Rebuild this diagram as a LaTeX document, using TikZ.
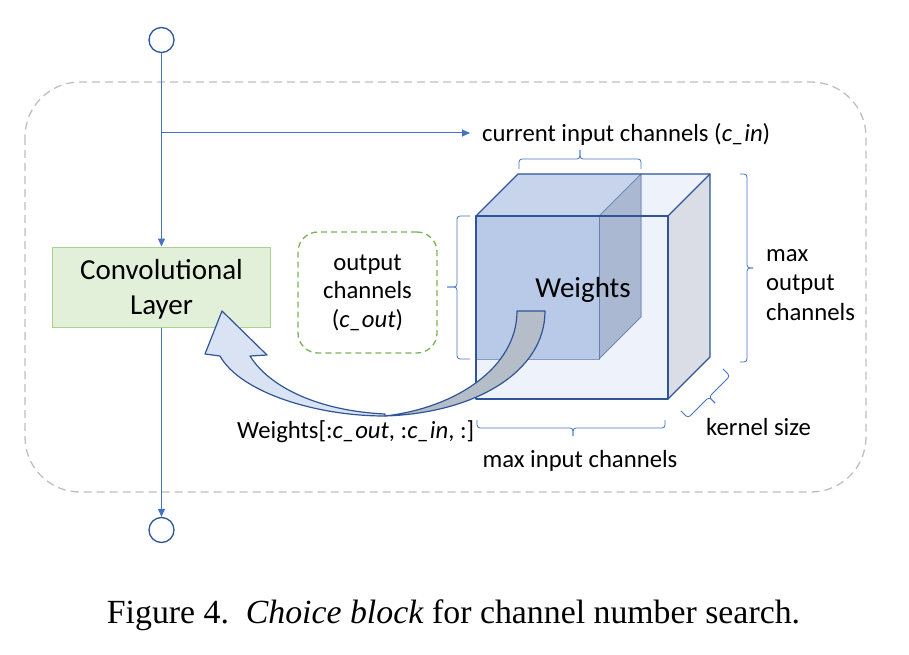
\documentclass[tikz,border=0pt]{standalone}
\usepackage{fontspec}
\setmainfont{Carlito}
\newfontfamily\capfont{Liberation Serif}
\usetikzlibrary{arrows.meta}
\definecolor{dkblue}{HTML}{2F5597}
\definecolor{lblue}{HTML}{4472C4}
\definecolor{framegray}{HTML}{BFBFBF}
\definecolor{convfill}{HTML}{E2F0D9}
\definecolor{convdraw}{HTML}{A9D18E}
\definecolor{gdash}{HTML}{7CB35A}
\definecolor{outerface}{HTML}{EEF2FA}
\definecolor{outerside}{HTML}{DADDE5}
\definecolor{innerfront}{HTML}{B9CAE8}
\definecolor{innertop}{HTML}{C8D4EC}
\definecolor{innerside}{HTML}{AAB8D2}
\definecolor{arrgray}{HTML}{B5BDC9}
\definecolor{arrblue}{HTML}{DAE3F3}
\tikzset{
  conn/.style={draw=lblue, line width=1pt, -{Triangle[length=8pt,width=7pt]}},
  brk/.style={draw=lblue, line width=0.8pt, rounded corners=3pt},
  circ/.style={circle, draw=dkblue, line width=1.3pt, fill=white, minimum size=25pt, inner sep=0pt},
  lbl/.style={font=\fontsize{24.7}{29.5}\selectfont, inner sep=0pt},
  convbox/.style={draw=convdraw, fill=convfill, line width=1pt, minimum width=218pt, minimum height=80pt, align=center, font=\fontsize{29}{35}\selectfont, inner sep=0pt},
  gbox/.style={draw=gdash, line width=1.3pt, dash pattern=on 6pt off 4pt, rounded corners=20pt, minimum width=139pt, minimum height=121pt, align=center, font=\fontsize{24.7}{28.5}\selectfont, inner sep=0pt},
  frame/.style={draw=framegray, line width=1.3pt, dash pattern=on 8pt off 5pt, rounded corners=55pt},
  outeredge/.style={draw=dkblue, line width=1.3pt, line join=round},
  inneredge/.style={draw=dkblue, draw opacity=0.55, line width=1pt, line join=round},
  bigarrow/.style={draw=dkblue, line width=1.2pt, line join=round}
}
\begin{document}
\begin{tikzpicture}[x=1pt,y=-1pt]
\useasboundingbox (0,0) rectangle (909,655);
\fill[white] (0,0) rectangle (909,655);

% outer dashed frame
\draw[frame] (25,82) rectangle (866,492);

% nodes
\node[circ] (top) at (161.5,40) {};
\node[circ] (bot) at (161.5,530) {};
\node[convbox] (conv) at (161.5,287) {};
\node[font=\fontsize{29}{35}\selectfont, inner sep=0pt, align=center, anchor=center] (convtxt) at (161.5,289) {Convolutional\\Layer};
\node[gbox] (gb) at (367.5,292.5) {output\\channels\\(\textit{c\_out})};

% connectors
\coordinate (br) at (161.5,133);
\node[lbl, anchor=base west] (cin) at (482,142) {current input channels (\textit{c\_in})};
\draw[conn] (top.south) -- (conv.north);
\draw[conn, shorten >=12pt] (br) -- (br -| cin.west);
\draw[conn] (conv.south) -- (bot.north);

% cube coordinates
\coordinate (A) at (476,216);
\coordinate (B) at (668,216);
\coordinate (C) at (668,399);
\coordinate (D) at (476,399);
\coordinate (Ap) at (518,174);
\coordinate (Bp) at (710,174);
\coordinate (Cp) at (710,357);
\coordinate (IB) at (599,216);
\coordinate (IC) at (599,359);
\coordinate (ID) at (476,359);
\coordinate (IBp) at (641,174);
\coordinate (ICp) at (641,317);

% outer faces
\fill[outerface] (A) -- (B) -- (C) -- (D) -- cycle;
\fill[outerface] (A) -- (Ap) -- (Bp) -- (B) -- cycle;
\fill[outerside] (B) -- (Bp) -- (Cp) -- (C) -- cycle;
% inner faces
\fill[innerfront] (A) -- (IB) -- (IC) -- (ID) -- cycle;
\fill[innertop] (A) -- (Ap) -- (IBp) -- (IB) -- cycle;
\fill[innerside] (IB) -- (IBp) -- (ICp) -- (IC) -- cycle;
% inner edges
\draw[inneredge] (IB) -- (IC) -- (ID);
\draw[inneredge] (IB) -- (IBp) -- (ICp) -- (IC);
% outer edges
\draw[outeredge] (A) -- (B) -- (C) -- (D) -- cycle;
\draw[outeredge] (A) -- (Ap) -- (Bp) -- (Cp) -- (C);
\draw[outeredge] (B) -- (Bp);

\node[font=\fontsize{29}{35}\selectfont, inner sep=0pt, anchor=base] (w) at (583,297) {Weights};

% brackets
\draw[brk] (519,169) -- (519,159) -- (580,159) -- (580,150);
\draw[brk] (580,150) -- (580,159) -- (641,159) -- (641,169);
\draw[brk] (470,216) -- (457,216) -- (457,287) -- (447,287);
\draw[brk] (447,287) -- (457,287) -- (457,359) -- (470,359);
\draw[brk] (740,174) -- (747,174) -- (747,268) -- (753,268);
\draw[brk] (753,268) -- (747,268) -- (747,362) -- (740,362);
\draw[brk] (477,420) -- (477,428) -- (573,428) -- (573,436);
\draw[brk] (573,436) -- (573,428) -- (665,428) -- (665,420);
\draw[brk] (681,411) -- (688,418) -- (709,397) -- (715,403);
\draw[brk] (715,403) -- (709,397) -- (730,376) -- (723,369);

% labels
\node[lbl, anchor=west, align=left] (mout) at (766,285) {max\\output\\channels};
\node[lbl, anchor=base west] (ks) at (706,435) {kernel size};
\node[lbl, anchor=base] (min) at (580,467) {max input channels};
\node[lbl, anchor=base west] (wsl) at (237,438) {Weights[:\textit{c\_out}, :\textit{c\_in}, :]};

% curved block arrow
\draw[bigarrow, fill=arrgray] (517,311) -- (545,311) .. controls (545,372) and (475,413) .. (385,416) .. controls (455,408) and (517,368) .. (517,311) -- cycle;
\draw[bigarrow, fill=arrblue] (385,416) .. controls (315,416) and (240,392) .. (220,356) -- (205,354) -- (222,311) -- (267,355) -- (250,356) .. controls (270,388) and (320,411) .. (385,414) -- cycle;

% caption
\node[font=\capfont\fontsize{33.8}{40}\selectfont, inner sep=0pt, anchor=base] (cap) at (453.5,623) {Figure 4.\hspace{0.5em}\textit{Choice block} for channel number search.};
\end{tikzpicture}
\end{document}
